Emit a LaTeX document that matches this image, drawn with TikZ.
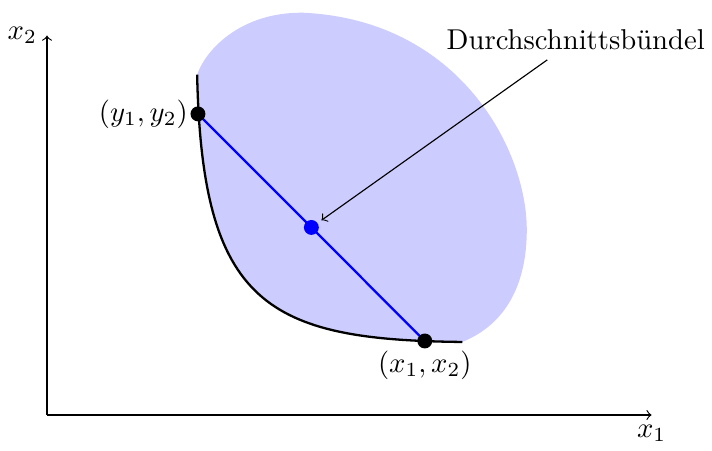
\documentclass[tikz,border=0pt]{standalone}
\usepackage{amsmath}
\usepackage{amssymb}
\usepackage{tikz}
\usepackage{xcolor}
\usetikzlibrary{calc}
\definecolor{setfill}{RGB}{204,204,255}

\tikzset{
  dot/.style={circle, inner sep=0pt, minimum size=5.2pt},
}

\begin{document}
\begin{tikzpicture}[scale=1]
    \useasboundingbox (-0.576,-0.441) rectangle (8.15,5.086);

    % better set
    \fill[setfill] (1.84,4.17) .. controls (1.90,1.35) and (2.70,0.92) .. (5.09,0.895)
        .. controls (5.74,1.16) and (5.88,1.78) .. (5.88,2.27)
        .. controls (5.88,3.25) and (5.06,4.84) .. (3.14,4.93)
        .. controls (2.37,4.94) and (1.94,4.47) .. (1.84,4.17) -- cycle;

    % axes
    \coordinate (O) at (0,0);
    \coordinate (xend) at (7.41,0);
    \coordinate (yend) at (0,4.65);
    \draw[->] (O) -- (xend) node[below] (xlab) {$x_1$};
    \draw[->] (O) -- (yend) node[left] (ylab) {$x_2$};

    % indifference curve
    \draw[thick] (1.84,4.17) .. controls (1.90,1.35) and (2.70,0.92) .. (5.09,0.895);

    % bundles
    \node[dot] (ybundle) at (1.85,3.69) {};
    \node[dot] (xbundle) at (4.63,0.907) {};
    \draw[blue, thick] (ybundle.center) -- (xbundle.center);
    \node[dot, fill=blue] (mean) at ($(ybundle)!0.5!(xbundle)$) {};
    \fill (ybundle) circle (2.6pt);
    \fill (xbundle) circle (2.6pt);
    \node[left] (ytext) at (ybundle.center) {$(y_1,y_2)$};
    \node[below] (xtext) at (xbundle.center) {$(x_1,x_2)$};

    % annotation
    \node (meantext) at (6.48,4.60) {Durchschnittsb\"undel};
    \draw[->, shorten >=1.5pt] (meantext) -- (mean);
\end{tikzpicture}
\end{document}
